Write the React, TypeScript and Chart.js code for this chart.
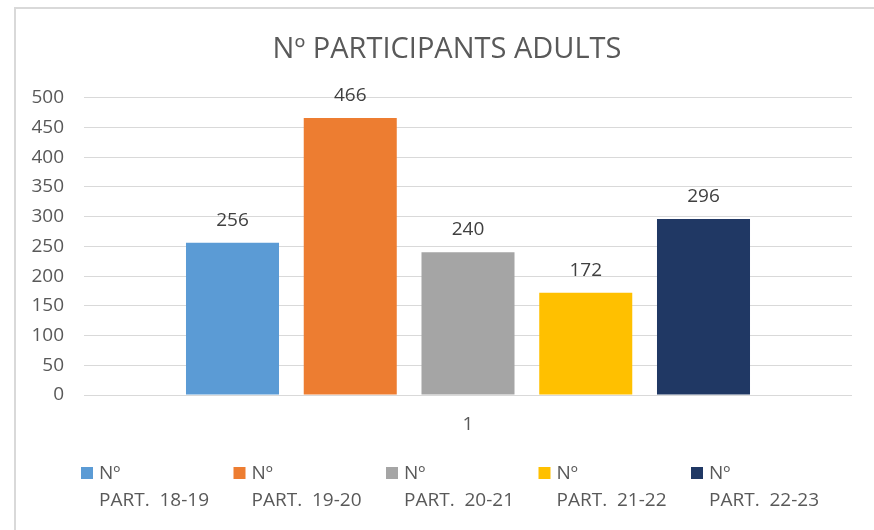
import React, { useEffect, useRef } from "react";
import { Chart, registerables } from "chart.js";

Chart.register(...registerables);

const categories = ["1"];
const seriesLabels = ["Nº PART.  18-19", "Nº PART.  19-20", "Nº PART.  20-21", "Nº PART.  21-22", "Nº PART.  22-23"];
const seriesValues = [256, 466, 240, 172, 296];
const seriesColors = ["#5B9BD5", "#ED7D31", "#A5A5A5", "#FFC000", "#203864"];
const yTicks = [0, 50, 100, 150, 200, 250, 300, 350, 400, 450, 500];
const titleText = "Nº PARTICIPANTS ADULTS";

const FONT = "'Open Sans', 'Noto Sans', sans-serif";
const TEXT = "#595959";

const valueLabels = {
  id: "valueLabels",
  afterDatasetsDraw(chart: any) {
    const ctx = chart.ctx;
    ctx.save();
    ctx.font = `19px ${FONT}`;
    ctx.fillStyle = "#404040";
    ctx.textAlign = "center";
    ctx.textBaseline = "alphabetic";
    chart.data.datasets.forEach((ds: any, i: number) => {
      const meta = chart.getDatasetMeta(i);
      meta.data.forEach((bar: any, j: number) => {
        ctx.fillText(String(ds.data[j]), bar.x, bar.y - 17);
      });
    });
    ctx.restore();
  },
};

// Centre the title over the whole chart frame (which runs off the right edge)
const titleShift = {
  id: "titleShift",
  afterLayout(chart: any) {
    const t = chart.titleBlock;
    if (t) {
      t.left += 22;
      t.right += 0;
    }
  },
};

const twoLineLegend = {
  id: "twoLineLegend",
  afterDraw(chart: any) {
    const ctx = chart.ctx;
    const area = chart.chartArea;
    const pitch = 152.5;
    const startX = area.left - 3;
    const boxTop = area.bottom + 72;
    ctx.save();
    ctx.font = `19px ${FONT}`;
    ctx.textAlign = "left";
    ctx.textBaseline = "alphabetic";
    chart.data.datasets.forEach((ds: any, i: number) => {
      const x = startX + i * pitch;
      ctx.fillStyle = ds.backgroundColor;
      ctx.fillRect(x, boxTop, 12, 12);
      const label: string = ds.label;
      const sp = label.indexOf(" ");
      const line1 = label.slice(0, sp);
      const line2 = label.slice(sp + 1);
      ctx.fillStyle = TEXT;
      ctx.fillText(line1, x + 18, boxTop + 12);
      ctx.fillText(line2, x + 18, boxTop + 39);
    });
    ctx.restore();
  },
};

export default function App() {
  const ref = useRef<HTMLCanvasElement>(null);
  useEffect(() => {
    if (!ref.current) return;
    const chart = new Chart(ref.current, {
      type: "bar",
      data: {
        labels: categories,
        datasets: seriesLabels.map((label, i) => ({
          label,
          data: [seriesValues[i]],
          backgroundColor: seriesColors[i],
          borderWidth: 0,
          categoryPercentage: 0.7666,
          barPercentage: 0.79,
        })),
      },
      options: {
        responsive: false,
        animation: false,
        layout: { padding: { left: 20, right: 22, top: 0, bottom: 80 } },
        plugins: {
          legend: { display: false },
          tooltip: { enabled: false },
          title: {
            display: true,
            text: titleText,
            color: TEXT,
            font: { family: FONT, size: 29, weight: "normal" },
            padding: { top: 32, bottom: 31 },
          },
        },
        scales: {
          x: {
            grid: { display: false, drawTicks: false },
            border: { display: false },
            ticks: { color: TEXT, font: { family: FONT, size: 19 }, padding: 18 },
            afterFit(scale: any) {
              scale.height = 55;
            },
          },
          y: {
            min: 0,
            max: 500,
            afterBuildTicks(scale: any) {
              scale.ticks = yTicks.map((v) => ({ value: v }));
            },
            grid: { color: "#d9d9d9", lineWidth: 1, drawTicks: false },
            border: { display: false },
            ticks: { color: TEXT, font: { family: FONT, size: 19 }, padding: 20 },
            afterFit(scale: any) {
              scale.width = 64;
            },
          },
        },
      },
      plugins: [valueLabels, titleShift, twoLineLegend],
    } as any);
    return () => chart.destroy();
  }, []);

  return (
    <div style={{ position: "fixed", left: 0, top: 0, width: 874, height: 530, overflow: "hidden", background: "#fff" }}>
      <div
        style={{
          position: "absolute",
          left: 14,
          top: 7,
          width: 900,
          height: 600,
          border: "2px solid #d9d9d9",
          boxSizing: "border-box",
        }}
      />
      <canvas ref={ref} width={874} height={530} style={{ position: "absolute", left: 0, top: 0, width: 874, height: 530 }} />
    </div>
  );
}
